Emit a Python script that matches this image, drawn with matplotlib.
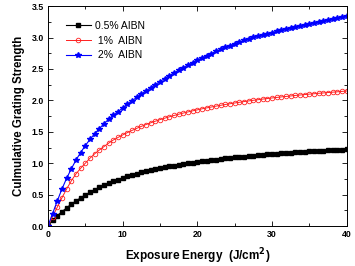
import numpy as np
import matplotlib
matplotlib.use("Agg")
import matplotlib.pyplot as plt
from matplotlib.ticker import MultipleLocator

# Exposure energy grid (J/cm^2), 65 points from 0 to 40
energy = np.linspace(0, 40, 65)

aibn_05 = [0.0, 0.09, 0.165, 0.23, 0.29, 0.35, 0.40, 0.45, 0.495, 0.54, 0.58,
           0.615, 0.647, 0.68, 0.71, 0.737, 0.765, 0.793, 0.814, 0.834, 0.854,
           0.872, 0.889, 0.905, 0.921, 0.935, 0.949, 0.963, 0.975, 0.988, 0.999,
           1.010, 1.021, 1.031, 1.041, 1.050, 1.059, 1.068, 1.076, 1.084, 1.092,
           1.100, 1.107, 1.114, 1.121, 1.127, 1.134, 1.140, 1.146, 1.151, 1.157,
           1.162, 1.168, 1.173, 1.178, 1.182, 1.187, 1.192, 1.196, 1.200, 1.204,
           1.209, 1.212, 1.216, 1.220]

aibn_1 = [0.0, 0.15, 0.30, 0.45, 0.59, 0.72, 0.83, 0.92, 1.00, 1.08, 1.15,
          1.21, 1.265, 1.32, 1.37, 1.41, 1.45, 1.487, 1.522, 1.555, 1.587,
          1.616, 1.643, 1.669, 1.694, 1.717, 1.739, 1.760, 1.780, 1.799, 1.817,
          1.834, 1.850, 1.866, 1.881, 1.895, 1.909, 1.922, 1.935, 1.947, 1.959,
          1.970, 1.981, 1.992, 2.002, 2.011, 2.021, 2.030, 2.039, 2.047, 2.056,
          2.063, 2.071, 2.079, 2.086, 2.093, 2.100, 2.106, 2.113, 2.119, 2.125,
          2.131, 2.137, 2.143, 2.150]

aibn_2 = [0.0, 0.20, 0.40, 0.59, 0.76, 0.91, 1.05, 1.17, 1.28, 1.38, 1.47,
          1.55, 1.63, 1.70, 1.76, 1.82, 1.88, 1.94, 1.99, 2.05, 2.10,
          2.15, 2.20, 2.25, 2.30, 2.347, 2.392, 2.436, 2.479, 2.521, 2.562,
          2.602, 2.64, 2.676, 2.712, 2.746, 2.779, 2.811, 2.842, 2.872, 2.90,
          2.927, 2.953, 2.978, 3.002, 3.024, 3.045, 3.063, 3.08, 3.099, 3.118,
          3.136, 3.154, 3.171, 3.188, 3.204, 3.22, 3.236, 3.251, 3.266, 3.281,
          3.296, 3.31, 3.325, 3.34]

labels = ["0.5% AIBN", " 1%  AIBN", " 2%  AIBN"]

plt.rcParams['font.family'] = ['Liberation Sans', 'DejaVu Sans']

fig = plt.figure(figsize=(3.55, 2.66), dpi=100)
ax = fig.add_axes([0.135, 0.150, 0.842, 0.827])

ax.plot(energy, aibn_05, color='black', lw=0.8, marker='s', ms=2.6,
        mec='black', mfc='black', label=labels[0])
ax.plot(energy, aibn_1, color='#ff2020', lw=0.7, marker='o', ms=3.3,
        mec='#ff2020', mfc='none', mew=0.6, label=labels[1])
ax.plot(energy, aibn_2, color='#0000ff', lw=0.8, marker='*', ms=3.8,
        mec='#0000ff', mfc='#0000ff', label=labels[2])

ax.set_xlim(0, 40)
ax.set_ylim(0, 3.5)
ax.xaxis.set_major_locator(MultipleLocator(10))
ax.xaxis.set_minor_locator(MultipleLocator(5))
ax.yaxis.set_major_locator(MultipleLocator(0.5))
ax.yaxis.set_minor_locator(MultipleLocator(0.25))
ax.yaxis.set_major_formatter(matplotlib.ticker.FormatStrFormatter('%.1f'))
ax.tick_params(which='both', direction='in', top=True, right=True,
               labelsize=6.3, width=0.6)
ax.tick_params(which='major', length=3.5, pad=3)
ax.tick_params(which='minor', length=2)
for lbl in ax.get_xticklabels() + ax.get_yticklabels():
    lbl.set_fontweight('bold')
for s in ax.spines.values():
    s.set_linewidth(0.7)

ax.set_xlabel('Exposure Energy  (J/cm$^\\mathbf{2}$)', fontsize=8.5,
              fontweight='bold', labelpad=5)
ax.set_ylabel('Culmulative Grating Strength', fontsize=8.3,
              fontweight='bold', labelpad=5)

ax.legend(loc='upper left', frameon=False, fontsize=7.5, handlelength=2.4,
          borderaxespad=0.3, labelspacing=0.45, handletextpad=0.4,
          bbox_to_anchor=(0.035, 0.965))

fig.savefig('out.png', dpi=100)
